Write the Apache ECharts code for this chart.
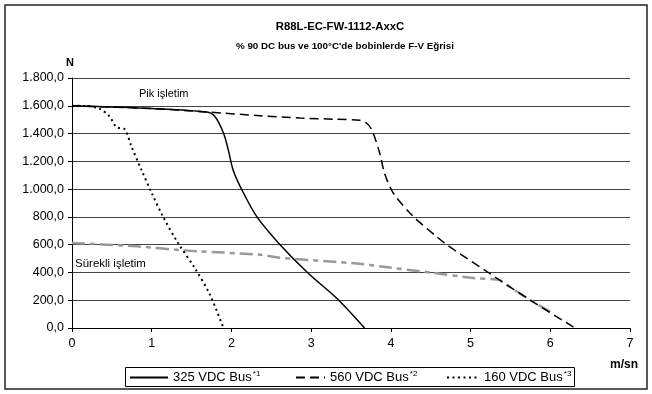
<!DOCTYPE html>
<html>
<head>
<meta charset="utf-8">
<script src="https://cdn.jsdelivr.net/npm/echarts@6/dist/echarts.min.js"></script>
<style>
html,body{margin:0;padding:0;background:#fff;}
#chart{width:652px;height:394px;}
</style>
</head>
<body>
<div id="chart"></div>
<script>
const titleText = 'R88L-EC-FW-1112-AxxC';
const subtitleText = '% 90 DC bus ve 100°C\'de bobinlerde F-V Eğrisi';
const yTickLabels = ['0,0','200,0','400,0','600,0','800,0','1.000,0','1.200,0','1.400,0','1.600,0','1.800,0'];
const xTickLabels = ['0','1','2','3','4','5','6','7'];

const speed325 = [0, 1.0, 1.69, 1.79, 1.9, 1.96, 2.02, 2.13, 2.32, 2.61, 2.96, 3.34, 3.67];
const force325 = [1600, 1580, 1555, 1524, 1404, 1284, 1140, 996, 800, 600, 396, 204, 0];

const speed560 = [0, 1.0, 1.7, 2.36, 2.86, 3.3, 3.61, 3.69, 3.76, 3.86, 3.92, 4.03, 4.28, 4.57, 4.70, 5.2, 5.74, 6.31];
const force560 = [1600, 1580, 1555, 1528, 1512, 1503, 1495, 1478, 1428, 1260, 1116, 972, 804, 660, 600, 408, 204, 0];

const speed160 = [0, 0.2, 0.35, 0.47, 0.56, 0.66, 0.745, 0.87, 1.0, 1.14, 1.33, 1.54, 1.73, 1.9];
const force160 = [1600, 1598, 1577, 1524, 1445, 1432, 1308, 1140, 972, 804, 612, 432, 240, 0];

const speedCont = [0, 0.81, 1.39, 1.6, 2.36, 2.6, 3.61, 3.86, 4.49, 5.03, 5.35, 5.45, 5.74, 6.05];
const forceCont = [612, 588, 559, 552, 528, 506, 463, 444, 400, 360, 348, 312, 204, 100];

const seriesNames = ['325 VDC Bus', '560 VDC Bus', '160 VDC Bus'];
const seriesSup = ['*1', '*2', '*3'];

const zip = (xs, ys) => xs.map((x, i) => [x, ys[i]]);
const font = 'Liberation Sans, Arial, sans-serif';

const chart = echarts.init(document.getElementById('chart'), null, {renderer: 'canvas'});

function legendFor(i, left, w) {
  return {
    data: [seriesNames[i]],
    left: left, top: 370,
    itemWidth: w, itemHeight: 8,
    padding: 0,
    selectedMode: false,
    itemStyle: { opacity: 0 },
    formatter: n => n + '{sup|' + seriesSup[i] + '}',
    textStyle: {
      fontFamily: font, fontSize: 13, color: '#000',
      rich: { sup: { fontFamily: font, fontSize: 8, color: '#000', padding: [0, 0, 7, 1] } }
    }
  };
}

const option = {
  backgroundColor: '#fff',
  animation: false,
  textStyle: { fontFamily: font },
  grid: { left: 72, right: 22, top: 78, bottom: 66 },
  xAxis: {
    type: 'value', min: 0, max: 7, interval: 1,
    axisLine: { lineStyle: { color: '#000', width: 1 } },
    axisTick: { show: true, length: 4, lineStyle: { color: '#000' } },
    splitLine: { show: false },
    axisLabel: { color: '#000', fontSize: 12.5, fontFamily: font, margin: 9, formatter: v => xTickLabels[v] }
  },
  yAxis: {
    type: 'value', min: 0, max: 1800, interval: 200,
    axisLine: { show: true, lineStyle: { color: '#000', width: 1 } },
    axisTick: { show: true, length: 4, lineStyle: { color: '#000' } },
    splitLine: { show: true, lineStyle: { color: '#444', width: 1 } },
    axisLabel: { color: '#000', fontSize: 12.5, fontFamily: font, margin: 8, formatter: v => yTickLabels[Math.round(v / 200)] }
  },
  legend: [legendFor(0, 129, 38), legendFor(1, 295, 29), legendFor(2, 446, 32)],
  title: [
    { text: titleText, left: 335, top: 16, textAlign: 'center',
      textStyle: { fontFamily: font, fontSize: 11.3, fontWeight: 'bold', color: '#000' } },
    { text: subtitleText, left: 340, top: 36, textAlign: 'center',
      textStyle: { fontFamily: font, fontSize: 9.8, fontWeight: 'bold', color: '#000' } }
  ],
  graphic: [
    { type: 'rect', shape: { x: 5, y: 5, width: 642, height: 384 }, silent: true, z: -1,
      style: { fill: 'none', stroke: '#222', lineWidth: 1.5 } },
    { type: 'rect', shape: { x: 125.5, y: 367.5, width: 449, height: 19 }, silent: true,
      style: { fill: 'none', stroke: '#000', lineWidth: 1 } },
    { type: 'text', left: 66, top: 57, style: { text: 'N', font: 'bold 11px ' + font, fill: '#000' } },
    { type: 'text', left: 610, top: 359, style: { text: 'm/sn', font: 'bold 12px ' + font, fill: '#000' } },
    { type: 'text', left: 139, top: 88, style: { text: 'Pik işletim', font: '11px ' + font, fill: '#000' } },
    { type: 'text', left: 75, top: 258, style: { text: 'Sürekli işletim', font: '11.5px ' + font, fill: '#000' } }
  ],
  series: [
    { name: seriesNames[0], type: 'line', data: zip(speed325, force325), symbol: 'none', smooth: 0.3,
      lineStyle: { color: '#000', width: 1.5, type: 'solid' }, itemStyle: { color: '#000' }, z: 5 },
    { name: seriesNames[1], type: 'line', data: zip(speed560, force560), symbol: 'none', smooth: 0.3,
      lineStyle: { color: '#000', width: 1.5, type: [9, 5] }, itemStyle: { color: '#000' }, z: 4 },
    { name: seriesNames[2], type: 'line', data: zip(speed160, force160), symbol: 'none', smooth: 0.3,
      lineStyle: { color: '#000', width: 2, type: [2, 3.5] }, itemStyle: { color: '#000' }, z: 4 },
    { name: 'Sürekli', type: 'line', data: zip(speedCont, forceCont), symbol: 'none', smooth: 0.2,
      lineStyle: { color: '#999', width: 2.5, type: [13, 5, 5, 5] }, itemStyle: { color: '#999' }, z: 3 }
  ]
};
chart.setOption(option);
</script>
</body>
</html>
